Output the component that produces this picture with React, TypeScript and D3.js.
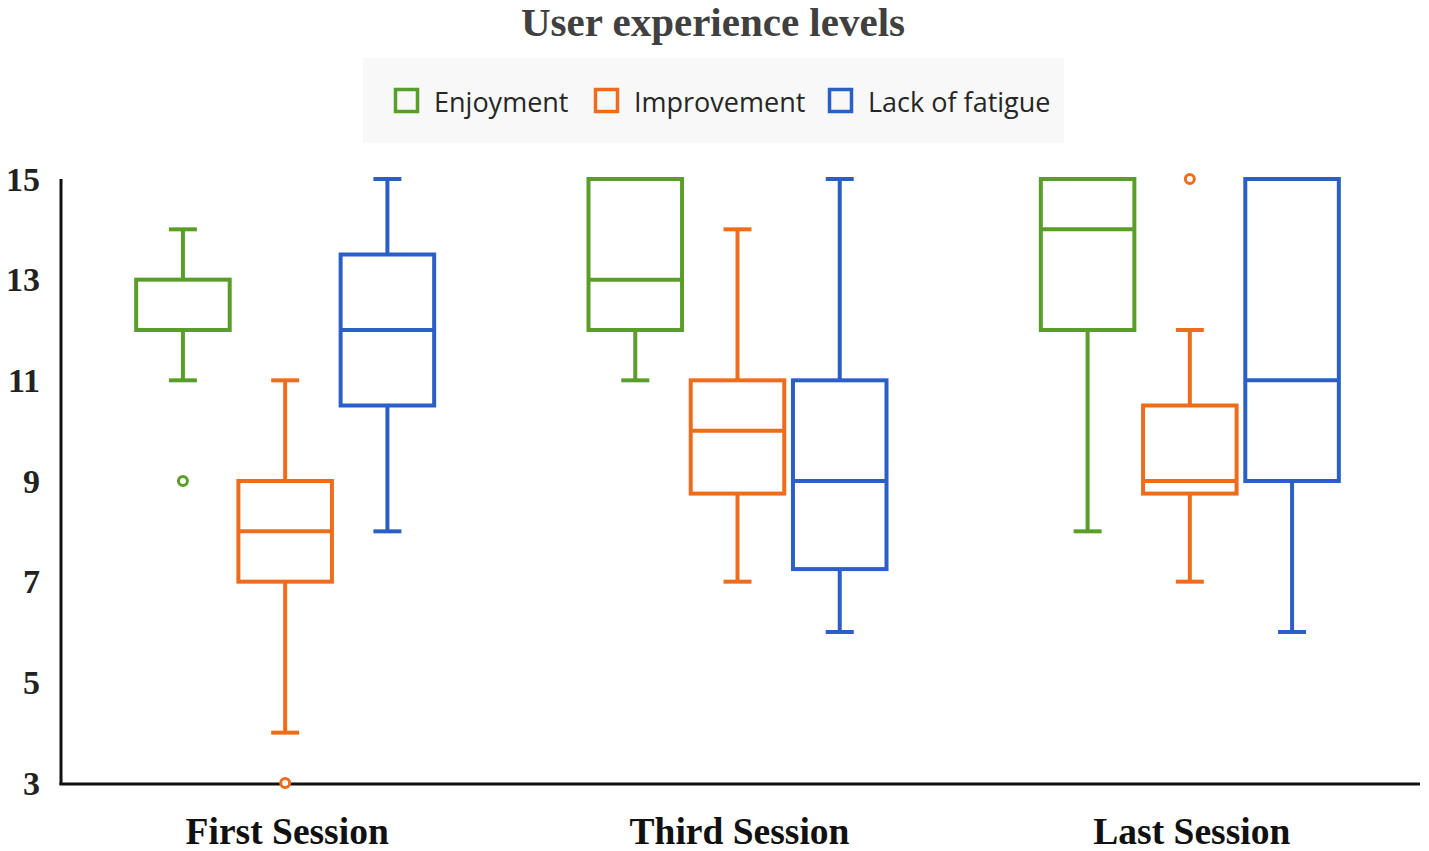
import React from "react";
import * as d3 from "d3";

const sessions = ["First Session", "Third Session", "Last Session"];
const seriesNames = ["Enjoyment", "Improvement", "Lack of fatigue"];
const seriesColors = ["#5a9e2a", "#ee6d1d", "#2b5fc8"];
const yTicks = [3, 5, 7, 9, 11, 13, 15];

// [whiskerLow, q1, median, q3, whiskerHigh] per session
const enjoymentStats = [
  [11, 12, 12, 13, 14],
  [11, 12, 13, 15, 15],
  [8, 12, 14, 15, 15],
];
const improvementStats = [
  [4, 7, 8, 9, 11],
  [7, 8.75, 10, 11, 14],
  [7, 8.75, 9, 10.5, 12],
];
const fatigueStats = [
  [8, 10.5, 12, 13.5, 15],
  [6, 7.25, 9, 11, 15],
  [6, 9, 11, 15, 15],
];
const enjoymentOutliers = [[9], [], []];
const improvementOutliers = [[3], [], [15]];
const fatigueOutliers = [[], [], []];

const allStats = [enjoymentStats, improvementStats, fatigueStats];
const allOutliers = [enjoymentOutliers, improvementOutliers, fatigueOutliers];

export default function App() {
  const W = 1429;
  const H = 851;
  const axisX = 61;
  const axisRight = 1420;
  const y = d3.scaleLinear().domain([3, 15]).range([783, 179]);
  const x = d3.scaleBand<string>().domain(sessions).range([59, 1416]);
  const inner = d3
    .scaleBand<string>()
    .domain(seriesNames)
    .range([-149, 149])
    .paddingInner(0.085)
    .paddingOuter(0);
  const boxW = inner.bandwidth();
  const capW = 28;
  const sw = 4;

  return (
    <svg width={W} height={H} style={{ position: "absolute", left: 0, top: 0, background: "#fff" }}>
      <rect x={0} y={0} width={W} height={H} fill="#fff" />
      <text
        x={713}
        y={36}
        textAnchor="middle"
        fontFamily="Liberation Serif, serif"
        fontWeight="bold"
        fontSize={41}
        fill="#404040"
      >
        User experience levels
      </text>
      <rect x={363} y={58} width={701} height={85} fill="#f8f8f8" />
      {seriesNames.map((s, i) => {
        const lx = [394, 594, 828][i];
        return (
          <g key={s}>
            <rect x={lx + 1.5} y={89.5} width={22} height={22} fill="none" stroke={seriesColors[i]} strokeWidth={3.5} />
            <text
              x={lx + 40}
              y={101}
              dominantBaseline="central"
              fontFamily="Open Sans, sans-serif"
              fontSize={27}
              fill="#262626"
            >
              {s}
            </text>
          </g>
        );
      })}
      {/* axes */}
      <line x1={axisX} x2={axisX} y1={179} y2={785} stroke="#111" strokeWidth={3} />
      <line x1={axisX - 1.5} x2={axisRight} y1={784} y2={784} stroke="#111" strokeWidth={3} />
      {yTicks.map((t) => (
        <text
          key={t}
          x={40}
          y={y(t)}
          textAnchor="end"
          dominantBaseline="central"
          fontFamily="Liberation Serif, serif"
          fontWeight="bold"
          fontSize={34}
          fill="#222"
        >
          {t}
        </text>
      ))}
      {sessions.map((s) => (
        <text
          key={s}
          x={(x(s) ?? 0) + x.bandwidth() / 2 + 2}
          y={831}
          textAnchor="middle"
          dominantBaseline="central"
          fontFamily="Liberation Serif, serif"
          fontWeight="bold"
          fontSize={37.5}
          fill="#111"
        >
          {s}
        </text>
      ))}
      {sessions.map((s, si) => {
        const cx0 = (x(s) ?? 0) + x.bandwidth() / 2;
        return seriesNames.map((n, ni) => {
          const [lo, q1, med, q3, hi] = allStats[ni][si];
          const left = cx0 + (inner(n) ?? 0);
          const cx = left + boxW / 2;
          const c = seriesColors[ni];
          return (
            <g key={s + n} stroke={c} strokeWidth={sw} fill="none">
              <line x1={cx} x2={cx} y1={y(hi)} y2={y(q3)} />
              <line x1={cx} x2={cx} y1={y(q1)} y2={y(lo)} />
              <line x1={cx - capW / 2} x2={cx + capW / 2} y1={y(hi)} y2={y(hi)} />
              <line x1={cx - capW / 2} x2={cx + capW / 2} y1={y(lo)} y2={y(lo)} />
              <rect x={left} y={y(q3)} width={boxW} height={y(q1) - y(q3)} fill="none" />
              <line x1={left} x2={left + boxW} y1={y(med)} y2={y(med)} />
              {allOutliers[ni][si].map((o, oi) => (
                <circle key={oi} cx={cx} cy={y(o)} r={4.5} strokeWidth={3} fill="#fff" />
              ))}
            </g>
          );
        });
      })}
    </svg>
  );
}
